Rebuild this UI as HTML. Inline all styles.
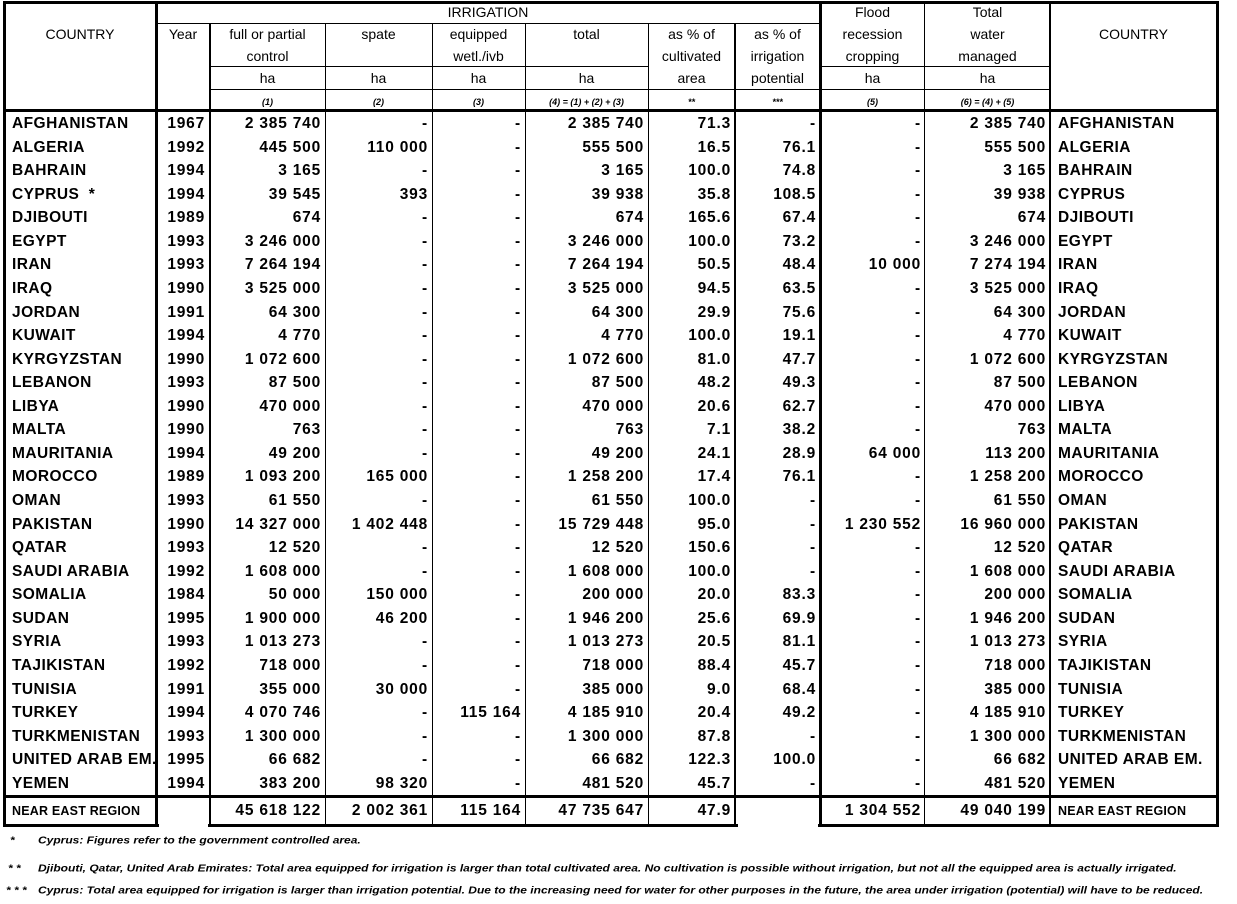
<!DOCTYPE html>
<html><head><meta charset="utf-8"><style>
*{margin:0;padding:0;box-sizing:border-box}
body{width:1237px;height:904px;background:#fff;position:relative;overflow:hidden;font-family:"Liberation Sans",Arial,sans-serif;color:#000}
.l{position:absolute;background:#000}
.t{position:absolute;font-size:14px;line-height:16px;text-align:center;white-space:nowrap}
.i{font-style:italic;font-size:9px;font-weight:bold}
#rows{position:absolute;left:0;top:112px;width:1237px}
.r{display:flex;height:23.57px;line-height:23.57px;font-size:15.5px;font-weight:bold;white-space:nowrap;letter-spacing:0.8px}
.r span{display:block;text-align:right;padding-right:4px}
.r span:nth-child(1){width:156px;text-align:left;padding-left:12px;letter-spacing:0.45px}
.r span:nth-child(2){width:54px;padding-right:5px}
.r span:nth-child(3){width:115px}
.r span:nth-child(4){width:107px}
.r span:nth-child(5){width:93px}
.r span:nth-child(6){width:123px}
.r span:nth-child(7){width:87px}
.r span:nth-child(8){width:85px}
.r span:nth-child(9){width:105px}
.r span:nth-child(10){width:125px}
.r span:nth-child(11){width:167px;text-align:left;padding-left:8px;letter-spacing:0.45px}
.tot{margin-top:2px;height:28px;line-height:28px}
.tot span:nth-child(1),.tot span:nth-child(11){font-size:12.5px;letter-spacing:0.2px}
.fn{position:absolute;font-size:12px;font-style:italic;font-weight:bold;white-space:nowrap;transform:scaleY(0.85);transform-origin:0 0}
</style></head><body>
<div class="l" style="left:3px;top:1px;width:1216px;height:3px"></div>
<div class="l" style="left:156px;top:23px;width:664px;height:1px"></div>
<div class="l" style="left:210px;top:66px;width:438px;height:1px"></div>
<div class="l" style="left:820px;top:66px;width:230px;height:1px"></div>
<div class="l" style="left:210px;top:89px;width:840px;height:1px"></div>
<div class="l" style="left:3px;top:109px;width:1216px;height:3px"></div>
<div class="l" style="left:3px;top:795px;width:1216px;height:3px"></div>
<div class="l" style="left:3px;top:824px;width:156px;height:3px"></div>
<div class="l" style="left:208px;top:824px;width:530px;height:3px"></div>
<div class="l" style="left:818px;top:824px;width:401px;height:3px"></div>
<div class="l" style="left:3px;top:1px;width:3px;height:826px"></div>
<div class="l" style="left:155px;top:1px;width:3px;height:826px"></div>
<div class="l" style="left:209px;top:23px;width:2px;height:804px"></div>
<div class="l" style="left:325px;top:23px;width:1px;height:804px"></div>
<div class="l" style="left:432px;top:23px;width:1px;height:804px"></div>
<div class="l" style="left:525px;top:23px;width:1px;height:804px"></div>
<div class="l" style="left:648px;top:23px;width:1px;height:804px"></div>
<div class="l" style="left:734px;top:23px;width:2px;height:804px"></div>
<div class="l" style="left:819px;top:1px;width:3px;height:826px"></div>
<div class="l" style="left:924px;top:1px;width:1px;height:826px"></div>
<div class="l" style="left:1049px;top:1px;width:2px;height:826px"></div>
<div class="l" style="left:1216px;top:1px;width:3px;height:826px"></div>
<div class="t" style="left:4px;width:152px;top:26px">COUNTRY</div>
<div class="t" style="left:1050px;width:167px;top:26px">COUNTRY</div>
<div class="t" style="left:156px;width:664px;top:4px">IRRIGATION</div>
<div class="t" style="left:156px;width:54px;top:26px">Year</div>
<div class="t" style="left:210px;width:115px;top:26px">full or partial</div>
<div class="t" style="left:210px;width:115px;top:48px">control</div>
<div class="t" style="left:325px;width:107px;top:26px">spate</div>
<div class="t" style="left:432px;width:93px;top:26px">equipped</div>
<div class="t" style="left:432px;width:93px;top:48px">wetl./ivb</div>
<div class="t" style="left:525px;width:123px;top:26px">total</div>
<div class="t" style="left:648px;width:87px;top:26px">as % of</div>
<div class="t" style="left:648px;width:87px;top:48px">cultivated</div>
<div class="t" style="left:648px;width:87px;top:70px">area</div>
<div class="t" style="left:735px;width:85px;top:26px">as % of</div>
<div class="t" style="left:735px;width:85px;top:48px">irrigation</div>
<div class="t" style="left:735px;width:85px;top:70px">potential</div>
<div class="t" style="left:820px;width:105px;top:4px">Flood</div>
<div class="t" style="left:820px;width:105px;top:26px">recession</div>
<div class="t" style="left:820px;width:105px;top:48px">cropping</div>
<div class="t" style="left:925px;width:125px;top:4px">Total</div>
<div class="t" style="left:925px;width:125px;top:26px">water</div>
<div class="t" style="left:925px;width:125px;top:48px">managed</div>
<div class="t" style="left:210px;width:115px;top:70px">ha</div>
<div class="t" style="left:325px;width:107px;top:70px">ha</div>
<div class="t" style="left:432px;width:93px;top:70px">ha</div>
<div class="t" style="left:525px;width:123px;top:70px">ha</div>
<div class="t" style="left:820px;width:105px;top:70px">ha</div>
<div class="t" style="left:925px;width:125px;top:70px">ha</div>
<div class="t i" style="left:210px;width:115px;top:94px">(1)</div>
<div class="t i" style="left:325px;width:107px;top:94px">(2)</div>
<div class="t i" style="left:432px;width:93px;top:94px">(3)</div>
<div class="t i" style="left:525px;width:123px;top:94px">(4) = (1) + (2) + (3)</div>
<div class="t i" style="left:648px;width:87px;top:94px">**</div>
<div class="t i" style="left:735px;width:85px;top:94px">***</div>
<div class="t i" style="left:820px;width:105px;top:94px">(5)</div>
<div class="t i" style="left:925px;width:125px;top:94px">(6) = (4) + (5)</div>
<div id="rows">
<div class="r"><span>AFGHANISTAN</span><span>1967</span><span>2 385 740</span><span>-</span><span>-</span><span>2 385 740</span><span>71.3</span><span>-</span><span>-</span><span>2 385 740</span><span>AFGHANISTAN</span></div>
<div class="r"><span>ALGERIA</span><span>1992</span><span>445 500</span><span>110 000</span><span>-</span><span>555 500</span><span>16.5</span><span>76.1</span><span>-</span><span>555 500</span><span>ALGERIA</span></div>
<div class="r"><span>BAHRAIN</span><span>1994</span><span>3 165</span><span>-</span><span>-</span><span>3 165</span><span>100.0</span><span>74.8</span><span>-</span><span>3 165</span><span>BAHRAIN</span></div>
<div class="r"><span>CYPRUS &nbsp;*</span><span>1994</span><span>39 545</span><span>393</span><span>-</span><span>39 938</span><span>35.8</span><span>108.5</span><span>-</span><span>39 938</span><span>CYPRUS</span></div>
<div class="r"><span>DJIBOUTI</span><span>1989</span><span>674</span><span>-</span><span>-</span><span>674</span><span>165.6</span><span>67.4</span><span>-</span><span>674</span><span>DJIBOUTI</span></div>
<div class="r"><span>EGYPT</span><span>1993</span><span>3 246 000</span><span>-</span><span>-</span><span>3 246 000</span><span>100.0</span><span>73.2</span><span>-</span><span>3 246 000</span><span>EGYPT</span></div>
<div class="r"><span>IRAN</span><span>1993</span><span>7 264 194</span><span>-</span><span>-</span><span>7 264 194</span><span>50.5</span><span>48.4</span><span>10 000</span><span>7 274 194</span><span>IRAN</span></div>
<div class="r"><span>IRAQ</span><span>1990</span><span>3 525 000</span><span>-</span><span>-</span><span>3 525 000</span><span>94.5</span><span>63.5</span><span>-</span><span>3 525 000</span><span>IRAQ</span></div>
<div class="r"><span>JORDAN</span><span>1991</span><span>64 300</span><span>-</span><span>-</span><span>64 300</span><span>29.9</span><span>75.6</span><span>-</span><span>64 300</span><span>JORDAN</span></div>
<div class="r"><span>KUWAIT</span><span>1994</span><span>4 770</span><span>-</span><span>-</span><span>4 770</span><span>100.0</span><span>19.1</span><span>-</span><span>4 770</span><span>KUWAIT</span></div>
<div class="r"><span>KYRGYZSTAN</span><span>1990</span><span>1 072 600</span><span>-</span><span>-</span><span>1 072 600</span><span>81.0</span><span>47.7</span><span>-</span><span>1 072 600</span><span>KYRGYZSTAN</span></div>
<div class="r"><span>LEBANON</span><span>1993</span><span>87 500</span><span>-</span><span>-</span><span>87 500</span><span>48.2</span><span>49.3</span><span>-</span><span>87 500</span><span>LEBANON</span></div>
<div class="r"><span>LIBYA</span><span>1990</span><span>470 000</span><span>-</span><span>-</span><span>470 000</span><span>20.6</span><span>62.7</span><span>-</span><span>470 000</span><span>LIBYA</span></div>
<div class="r"><span>MALTA</span><span>1990</span><span>763</span><span>-</span><span>-</span><span>763</span><span>7.1</span><span>38.2</span><span>-</span><span>763</span><span>MALTA</span></div>
<div class="r"><span>MAURITANIA</span><span>1994</span><span>49 200</span><span>-</span><span>-</span><span>49 200</span><span>24.1</span><span>28.9</span><span>64 000</span><span>113 200</span><span>MAURITANIA</span></div>
<div class="r"><span>MOROCCO</span><span>1989</span><span>1 093 200</span><span>165 000</span><span>-</span><span>1 258 200</span><span>17.4</span><span>76.1</span><span>-</span><span>1 258 200</span><span>MOROCCO</span></div>
<div class="r"><span>OMAN</span><span>1993</span><span>61 550</span><span>-</span><span>-</span><span>61 550</span><span>100.0</span><span>-</span><span>-</span><span>61 550</span><span>OMAN</span></div>
<div class="r"><span>PAKISTAN</span><span>1990</span><span>14 327 000</span><span>1 402 448</span><span>-</span><span>15 729 448</span><span>95.0</span><span>-</span><span>1 230 552</span><span>16 960 000</span><span>PAKISTAN</span></div>
<div class="r"><span>QATAR</span><span>1993</span><span>12 520</span><span>-</span><span>-</span><span>12 520</span><span>150.6</span><span>-</span><span>-</span><span>12 520</span><span>QATAR</span></div>
<div class="r"><span>SAUDI ARABIA</span><span>1992</span><span>1 608 000</span><span>-</span><span>-</span><span>1 608 000</span><span>100.0</span><span>-</span><span>-</span><span>1 608 000</span><span>SAUDI ARABIA</span></div>
<div class="r"><span>SOMALIA</span><span>1984</span><span>50 000</span><span>150 000</span><span>-</span><span>200 000</span><span>20.0</span><span>83.3</span><span>-</span><span>200 000</span><span>SOMALIA</span></div>
<div class="r"><span>SUDAN</span><span>1995</span><span>1 900 000</span><span>46 200</span><span>-</span><span>1 946 200</span><span>25.6</span><span>69.9</span><span>-</span><span>1 946 200</span><span>SUDAN</span></div>
<div class="r"><span>SYRIA</span><span>1993</span><span>1 013 273</span><span>-</span><span>-</span><span>1 013 273</span><span>20.5</span><span>81.1</span><span>-</span><span>1 013 273</span><span>SYRIA</span></div>
<div class="r"><span>TAJIKISTAN</span><span>1992</span><span>718 000</span><span>-</span><span>-</span><span>718 000</span><span>88.4</span><span>45.7</span><span>-</span><span>718 000</span><span>TAJIKISTAN</span></div>
<div class="r"><span>TUNISIA</span><span>1991</span><span>355 000</span><span>30 000</span><span>-</span><span>385 000</span><span>9.0</span><span>68.4</span><span>-</span><span>385 000</span><span>TUNISIA</span></div>
<div class="r"><span>TURKEY</span><span>1994</span><span>4 070 746</span><span>-</span><span>115 164</span><span>4 185 910</span><span>20.4</span><span>49.2</span><span>-</span><span>4 185 910</span><span>TURKEY</span></div>
<div class="r"><span>TURKMENISTAN</span><span>1993</span><span>1 300 000</span><span>-</span><span>-</span><span>1 300 000</span><span>87.8</span><span>-</span><span>-</span><span>1 300 000</span><span>TURKMENISTAN</span></div>
<div class="r"><span>UNITED ARAB EM.</span><span>1995</span><span>66 682</span><span>-</span><span>-</span><span>66 682</span><span>122.3</span><span>100.0</span><span>-</span><span>66 682</span><span>UNITED ARAB EM.</span></div>
<div class="r"><span>YEMEN</span><span>1994</span><span>383 200</span><span>98 320</span><span>-</span><span>481 520</span><span>45.7</span><span>-</span><span>-</span><span>481 520</span><span>YEMEN</span></div>
<div class="r tot"><span>NEAR EAST REGION</span><span></span><span>45 618 122</span><span>2 002 361</span><span>115 164</span><span>47 735 647</span><span>47.9</span><span></span><span>1 304 552</span><span>49 040 199</span><span>NEAR EAST REGION</span></div>
</div>
<div class="fn" style="left:10px;top:834px">*</div>
<div class="fn" style="left:38px;top:834px">Cyprus: Figures refer to the government controlled area.</div>
<div class="fn" style="left:8px;top:862px">* *</div>
<div class="fn" style="left:38px;top:862px">Djibouti, Qatar, United Arab Emirates: Total area equipped for irrigation is larger than total cultivated area. No cultivation is possible without irrigation, but not all the equipped area is actually irrigated.</div>
<div class="fn" style="left:6px;top:884px">* * *</div>
<div class="fn" style="left:38px;top:884px">Cyprus: Total area equipped for irrigation is larger than irrigation potential. Due to the increasing need for water for other purposes in the future, the area under irrigation (potential) will have to be reduced.</div>
</body></html>
